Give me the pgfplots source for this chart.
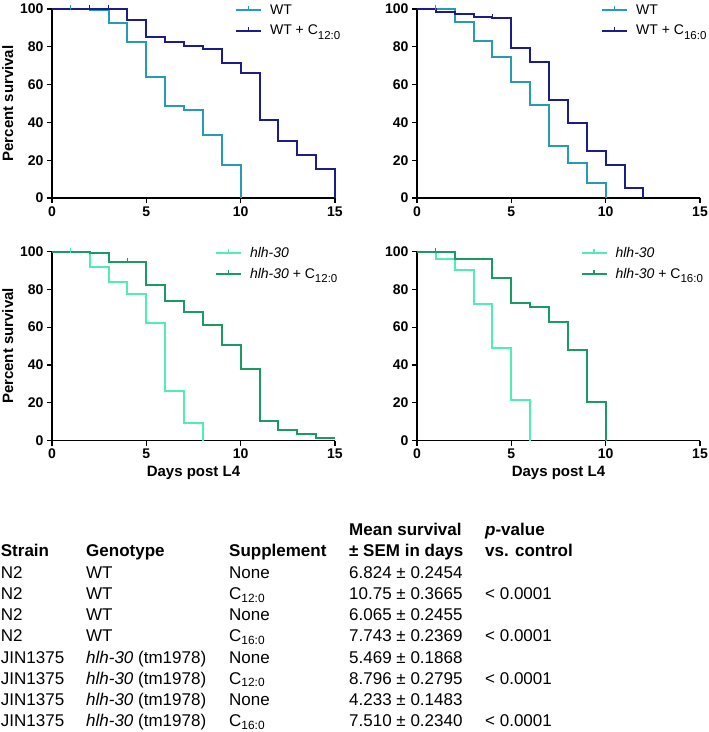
\documentclass[border=0pt]{standalone}
\usepackage{pgfplots}
\pgfplotsset{compat=1.18}
\usepackage{fontspec}
\setmainfont{Liberation Sans}
\definecolor{wt}{RGB}{40,155,180}
\definecolor{wtc}{RGB}{28,28,140}
\definecolor{hl}{RGB}{80,238,178}
\definecolor{hlc}{RGB}{26,155,100}
\newcommand{\lsub}[1]{\raisebox{-0.32em}{\fontsize{11.5}{12}\selectfont #1}}
\pgfplotsset{
 km/.style={
  scale only axis, width=283pt, height=189pt,
  xmin=0,xmax=15,ymin=0,ymax=100,
  axis lines=left, axis line style={line width=1.4pt,-},
  xtick={0,5,10,15}, ytick={0,20,40,60,80,100},
  tick style={black,line width=1.2pt}, tick align=outside, major tick length=5pt,
  /pgf/number format/assume math mode=true,
  ticklabel style={font=\fontsize{14}{15}\selectfont\bfseries},
  label style={font=\fontsize{15}{16}\selectfont\bfseries},
  legend style={draw=none, fill=none, font=\fontsize{14}{15}\selectfont,
    anchor=north west, inner sep=0pt, outer sep=0pt, row sep=9pt,
    nodes={inner sep=0pt},
    /tikz/every odd column/.append style={column sep=8pt}},
  legend cell align=left,
  legend image code/.code={\draw[##1] (0pt,0pt)--(25pt,0pt); \draw[##1,line width=1.2pt] (12.5pt,0pt)--(12.5pt,4pt);},
  clip=false,
 },
 kmline/.style={const plot, line width=2pt, line join=miter, #1},
 cens/.style={#1, only marks, mark=|, mark size=2.5pt, mark options={line width=1.2pt, yshift=1.5pt}, forget plot},
}
\begin{document}
\begin{tikzpicture}[x=1pt,y=1pt]
\useasboundingbox (0,0) rectangle (709,-732);
% top-left
\begin{axis}[km, at={(52pt,-198pt)}, anchor=south west, ylabel={Percent survival},
  legend style={at={(rel axis cs:0.647,1.022)}}]
\addplot[kmline=wt] coordinates {(0,100)(2,99.3)(3,92.6)(4,82.8)(5,64)(6,48.7)(7,46.5)(8,33.3)(9,17.7)(10,0)};
\addlegendentry{WT}
\addplot[kmline=wtc] coordinates {(0,100)(4,94)(5,85.3)(6,82.3)(7,80.2)(8,78.8)(9,71.3)(10,66)(11,41.2)(12,30.1)(13,22.8)(14,15.2)(15,0)};
\addlegendentry{WT + C\lsub{12:0}}
\addplot[cens=wt] coordinates {(1,100)};
\addplot[cens=wtc] coordinates {(2,100)(3,100)};
\end{axis}
% top-right
\begin{axis}[km, at={(417pt,-198pt)}, anchor=south west,
  legend style={at={(rel axis cs:0.651,1.022)}}]
\addplot[kmline=wt] coordinates {(0,100)(2,92.9)(3,83)(4,74.5)(5,61.5)(6,49)(7,27.3)(8,18.4)(9,7.7)(10,0)};
\addlegendentry{WT}
\addplot[kmline=wtc] coordinates {(0,100)(1,98.6)(2,97.6)(3,96)(4,95.2)(5,79.5)(6,72.2)(7,51.9)(8,39.6)(9,25)(10,17.5)(11,5.5)(12,0)};
\addlegendentry{WT + C\lsub{16:0}}
\addplot[cens=wt] coordinates {(1,100)};
\addplot[cens=wtc] coordinates {(4,95.2)};
\end{axis}
% bottom-left
\begin{axis}[km, at={(52pt,-440.5pt)}, anchor=south west, ylabel={Percent survival}, xlabel={Days post L4},
  legend style={at={(rel axis cs:0.576,1.022)}}]
\addplot[kmline=hl] coordinates {(0,100)(2,91.7)(3,83.7)(4,77.7)(5,62.3)(6,26.2)(7,9.3)(8,0)};
\addlegendentry{\textit{hlh-30}}
\addplot[kmline=hlc] coordinates {(0,100)(2,99.1)(3,94.3)(5,82.5)(6,73.6)(7,67.8)(8,61.1)(9,50.4)(10,37.9)(11,10.2)(12,5.3)(13,3.2)(14,1.5)(15,1.5)};
\addlegendentry{\textit{hlh-30} + C\lsub{12:0}}
\addplot[cens=hl] coordinates {(1,100)};
\addplot[cens=hlc] coordinates {(4,94.3)};
\end{axis}
% bottom-right
\begin{axis}[km, at={(417pt,-440.5pt)}, anchor=south west, xlabel={Days post L4},
  legend style={at={(rel axis cs:0.578,1.022)}}]
\addplot[kmline=hl] coordinates {(0,100)(1,95.9)(2,90.3)(3,72.2)(4,48.7)(5,21.6)(6,0)};
\addlegendentry{\textit{hlh-30}}
\addplot[kmline=hlc] coordinates {(0,100)(2,96.3)(4,86)(5,72.6)(6,70.6)(7,62.5)(8,48.1)(9,20.5)(10,0)};
\addlegendentry{\textit{hlh-30} + C\lsub{16:0}}
\addplot[cens=hlc] coordinates {(1,100)};
\end{axis}
% table
\begin{scope}[every node/.style={anchor=base west, inner sep=0pt, font=\fontsize{17}{20}\selectfont}]
\node[font=\fontsize{17}{20}\selectfont\bfseries] at (349,-535.7) {Mean survival};
\node[font=\fontsize{17}{20}\selectfont\bfseries] at (485,-535.7) {\textit{p}-value};
\node[font=\fontsize{17}{20}\selectfont\bfseries] at (0.7,-556.7) {Strain};
\node[font=\fontsize{17}{20}\selectfont\bfseries] at (86,-556.7) {Genotype};
\node[font=\fontsize{17}{20}\selectfont\bfseries] at (229,-556.7) {Supplement};
\node[font=\fontsize{17}{20}\selectfont\bfseries] at (349,-556.7) {± SEM in days};
\node[font=\fontsize{17}{20}\selectfont\bfseries] at (485,-556.7) {vs. control};
\foreach \y/\s/\g/\p/\m/\v in {
 578.3/N2/WT/None/6.824 ± 0.2454/,
 599.5/N2/WT/C\textsubscript{12:0}/10.75 ± 0.3665/< 0.0001,
 620.7/N2/WT/None/6.065 ± 0.2455/,
 641.9/N2/WT/C\textsubscript{16:0}/7.743 ± 0.2369/< 0.0001,
 663.1/JIN1375/\textit{hlh-30} (tm1978)/None/5.469 ± 0.1868/,
 684.3/JIN1375/\textit{hlh-30} (tm1978)/C\textsubscript{12:0}/8.796 ± 0.2795/< 0.0001,
 705.5/JIN1375/\textit{hlh-30} (tm1978)/None/4.233 ± 0.1483/,
 726.7/JIN1375/\textit{hlh-30} (tm1978)/C\textsubscript{16:0}/7.510 ± 0.2340/< 0.0001}{
 \node at (0.7,-\y) {\s};
 \node at (86,-\y) {\g};
 \node at (229,-\y) {\p};
 \node at (349,-\y) {\m};
 \node at (485,-\y) {\v};
}
\end{scope}
\end{tikzpicture}
\end{document}
